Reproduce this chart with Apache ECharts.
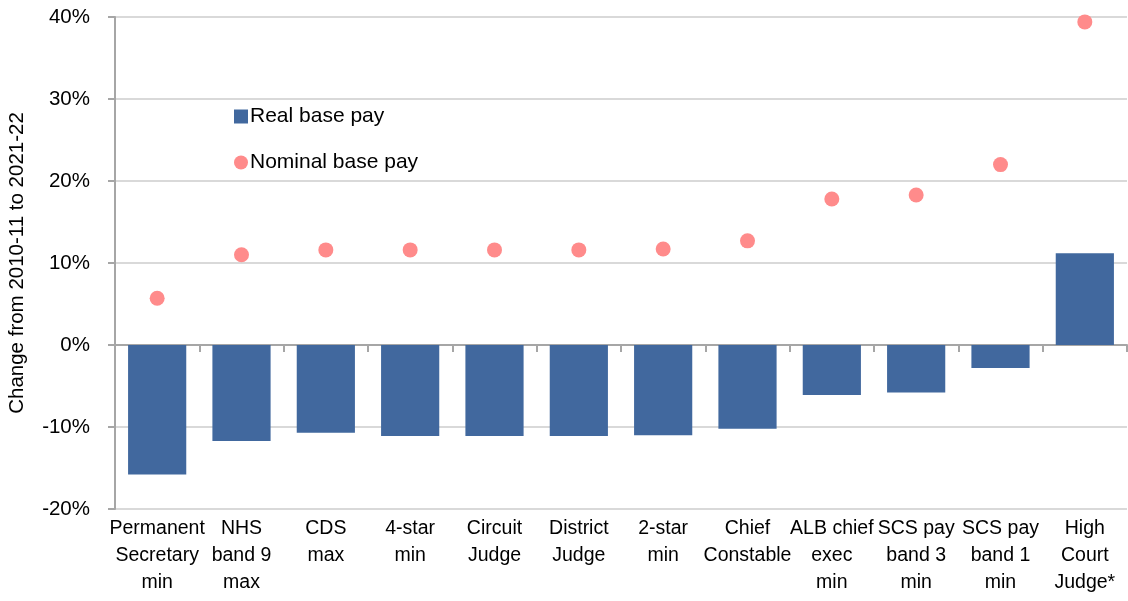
<!DOCTYPE html>
<html>
<head>
<meta charset="utf-8">
<script src="https://cdn.jsdelivr.net/npm/echarts@6/dist/echarts.min.js"></script>
<style>html,body{margin:0;padding:0;background:#fff}#c{width:1128px;height:601px}</style>
</head>
<body>
<div id="c"></div>
<script>
var categories = ["Permanent\nSecretary\nmin","NHS\nband 9\nmax","CDS\nmax","4-star\nmin","Circuit\nJudge","District\nJudge","2-star\nmin","Chief\nConstable","ALB chief\nexec\nmin","SCS pay\nband 3\nmin","SCS pay\nband 1\nmin","High\nCourt\nJudge*"];
var realBasePay = [-15.8,-11.7,-10.7,-11.1,-11.1,-11.1,-11.0,-10.2,-6.1,-5.8,-2.8,11.2];
var nominalBasePay = [5.7,11.0,11.6,11.6,11.6,11.6,11.7,12.7,17.8,18.3,22.0,39.4];
var yTicks = {min:-20, max:40, interval:10};

var chart = echarts.init(document.getElementById('c'));
var font = 'Liberation Sans, Arial, sans-serif';
chart.setOption({
  animation:false,
  textStyle:{fontFamily:font},
  grid:{left:115,right:1,top:17,bottom:92,containLabel:false,outerBoundsMode:'none'},
  legend:{
    orient:'vertical', left:229, top:101, itemGap:25, itemWidth:14, itemHeight:14,
    textStyle:{fontSize:21,color:'#000',fontFamily:font,padding:[0,0,0,-3]},
    data:[{name:'Real base pay',icon:'rect'},{name:'Nominal base pay',icon:'circle'}]
  },
  xAxis:[
    {type:'category',data:categories,position:'bottom',
     axisLine:{show:false,onZero:false},axisTick:{show:false},
     axisLabel:{fontSize:19.5,color:'#000',lineHeight:27,margin:6,interval:0,fontFamily:font}},
    {type:'category',data:categories,position:'top',
     axisLine:{show:true,onZero:true,lineStyle:{color:'#a6a6a6',width:2}},
     axisTick:{show:true,inside:true,length:7,lineStyle:{color:'#a6a6a6',width:2}},
     axisLabel:{show:false},splitLine:{show:false}}
  ],
  yAxis:{type:'value',min:yTicks.min,max:yTicks.max,interval:yTicks.interval,
    name:'Change from 2010-11 to 2021-22',nameLocation:'middle',nameRotate:90,nameGap:87,
    nameMoveOverlap:false,
    nameTextStyle:{fontSize:20.5,color:'#000',fontFamily:font},
    axisLine:{show:true,lineStyle:{color:'#a6a6a6',width:2}},
    axisTick:{show:true,length:7,lineStyle:{color:'#a6a6a6',width:2}},
    axisLabel:{fontSize:20.5,color:'#000',margin:25,formatter:'{value}%',fontFamily:font},
    splitLine:{show:true,lineStyle:{color:'#d9d9d9',width:2}}
  },
  series:[
    {name:'Real base pay',type:'bar',xAxisIndex:0,data:realBasePay,barWidth:'69%',
     itemStyle:{color:'#41689E'}},
    {name:'Nominal base pay',type:'scatter',xAxisIndex:0,data:nominalBasePay,symbolSize:15,
     itemStyle:{color:'#FF8B8B',opacity:1},z:3}
  ]
});
</script>
</body>
</html>
